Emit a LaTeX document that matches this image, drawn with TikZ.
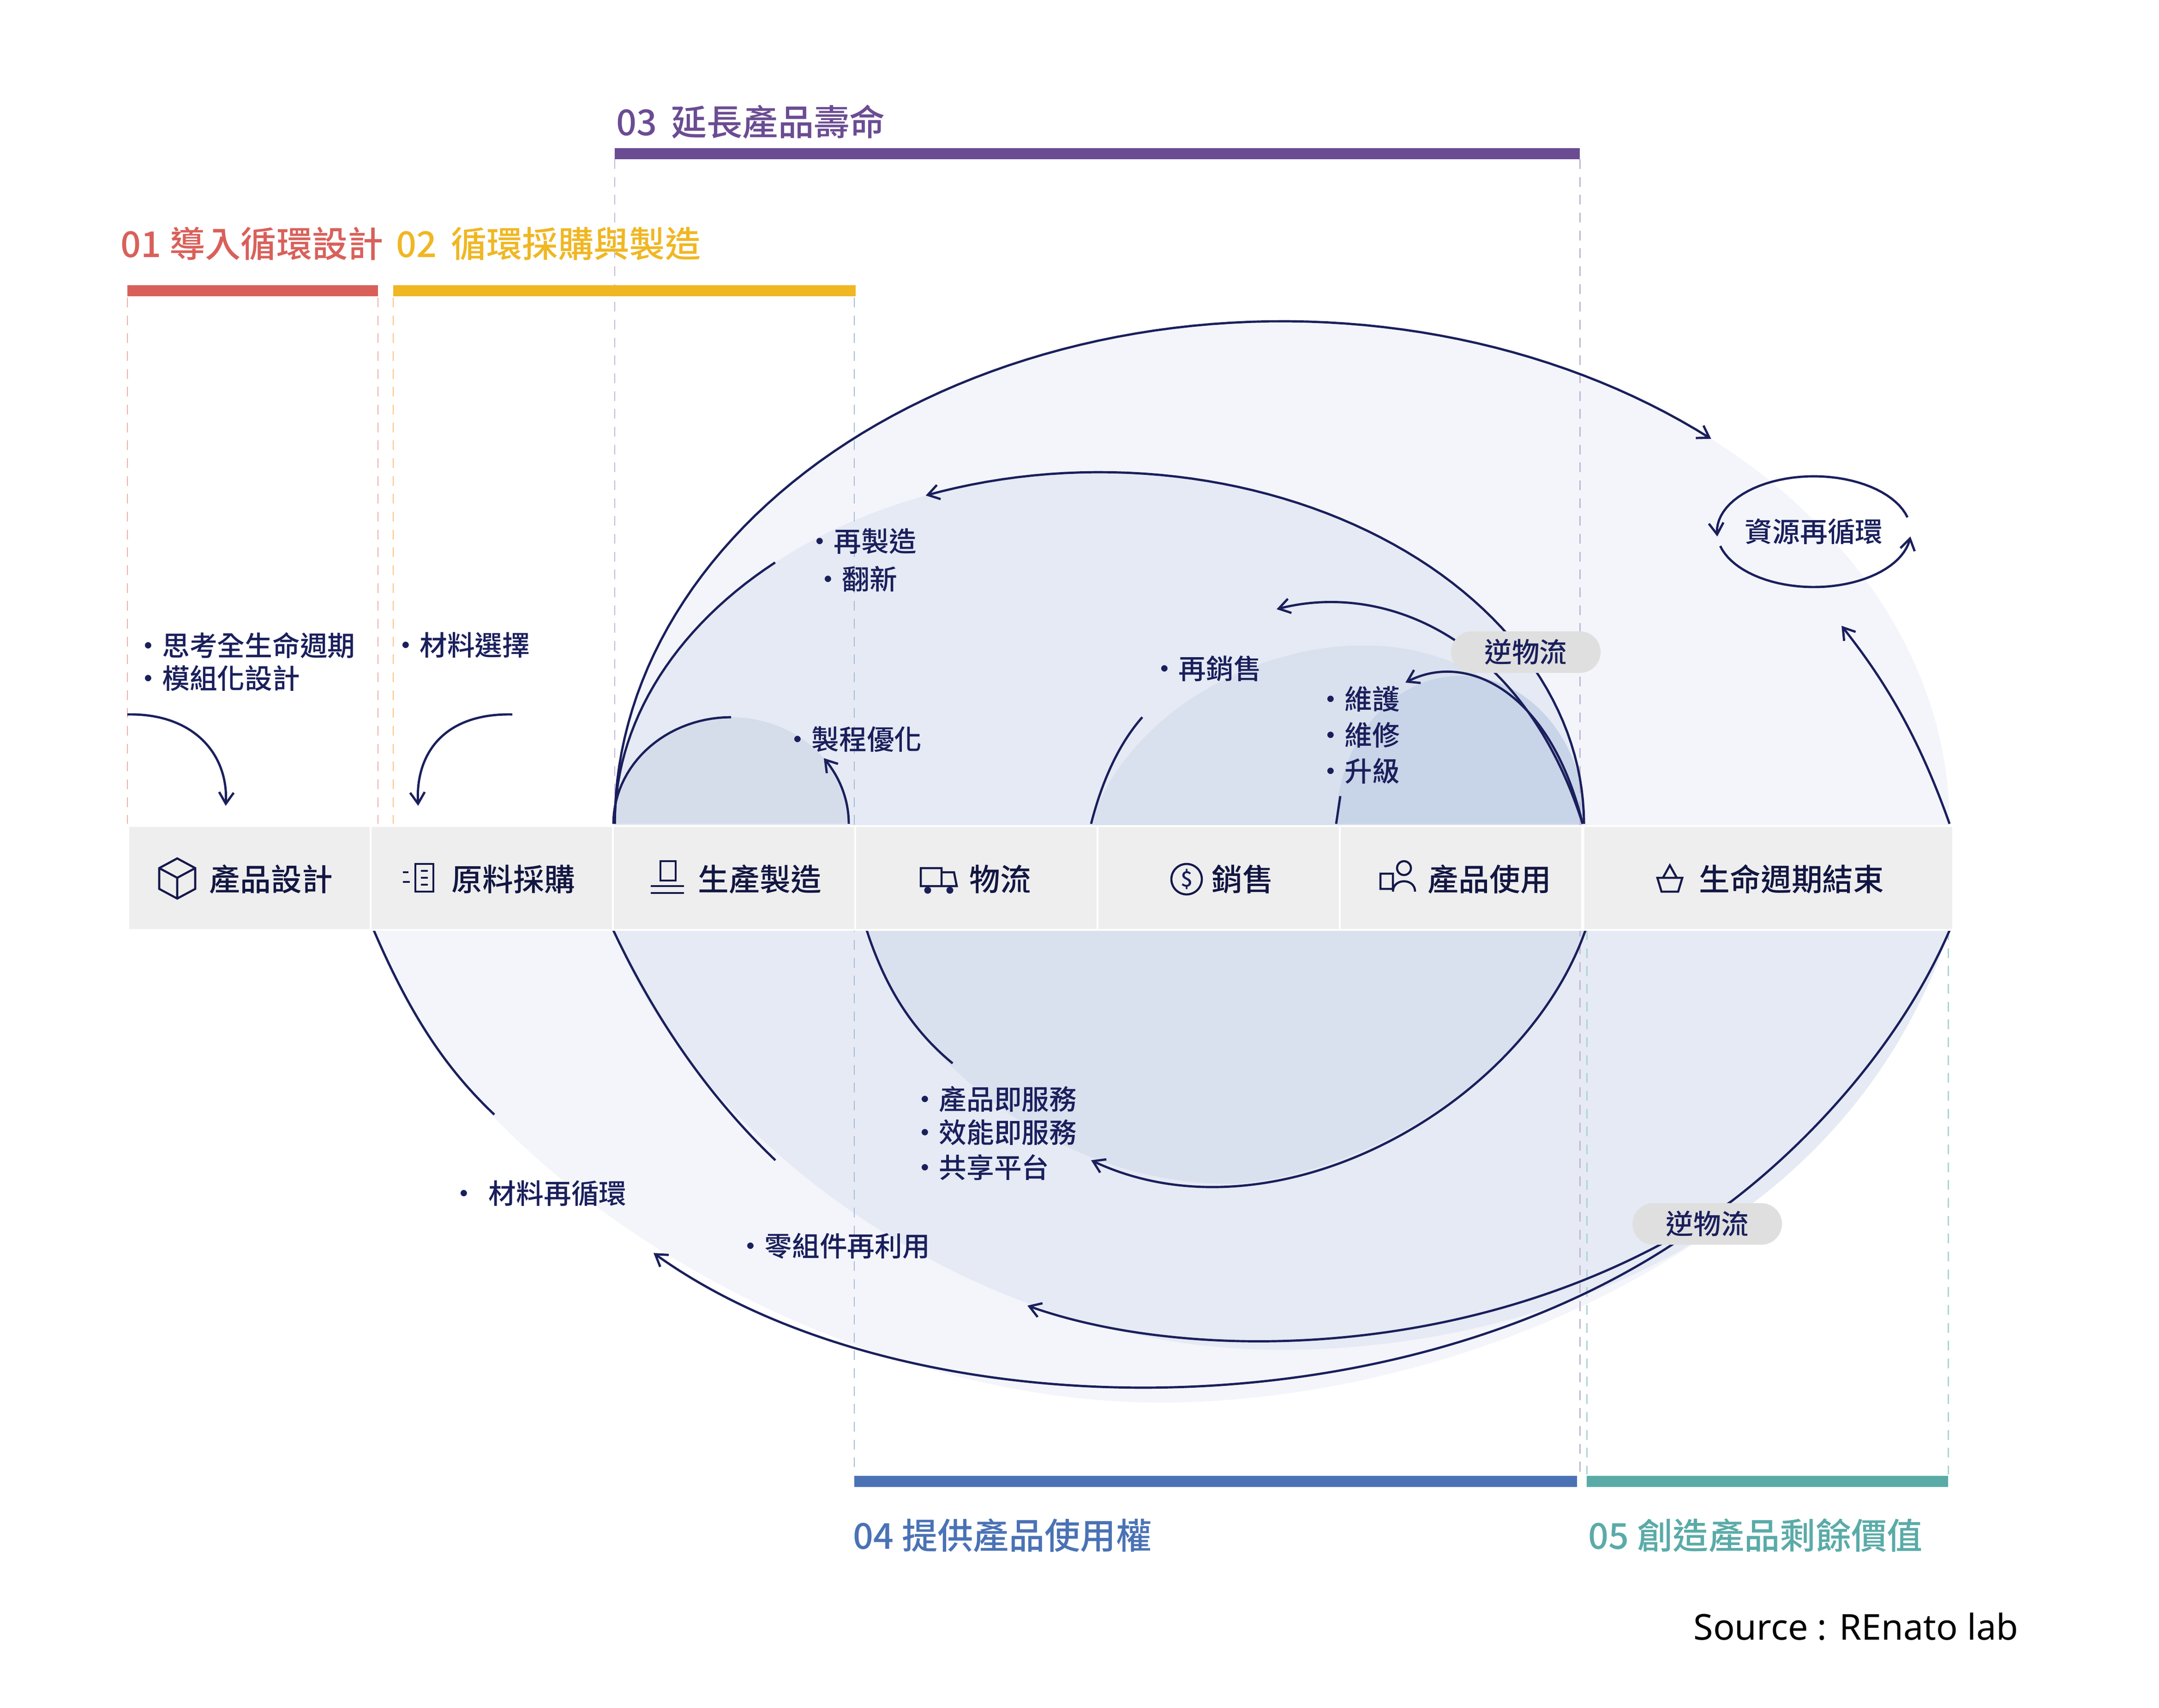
\documentclass[tikz,border=0pt]{standalone}
\usepackage{fontspec}
\setmainfont{Noto Sans CJK TC}[BoldFont={Noto Sans CJK TC Medium}]
\newfontfamily\srcfont{Noto Sans}
\usetikzlibrary{arrows.meta}
\definecolor{navy}{HTML}{1A1F5C}
\definecolor{cA}{HTML}{D9605A}
\definecolor{cB}{HTML}{F0B723}
\definecolor{cC}{HTML}{6B4C93}
\definecolor{cD}{HTML}{4A72B5}
\definecolor{cE}{HTML}{5AABA8}
\definecolor{fa}{HTML}{F3F5FA}
\definecolor{fb}{HTML}{E5EAF4}
\definecolor{fc}{HTML}{DAE1EE}
\definecolor{fd}{HTML}{D5DDEB}
\definecolor{fe}{HTML}{C8D4E7}
\begin{document}
\begin{tikzpicture}[x=0.03cm,y=-0.03cm,
  arr/.style={draw=navy,line width=1.4pt,-{Straight Barb[length=7pt,width=9pt]}},
  ln/.style={draw=navy,line width=1.4pt},
  lab/.style={text=navy,font=\fontsize{17}{20}\selectfont\bfseries,anchor=west,inner sep=0pt},
  box/.style={fill=gray!13,draw=white,line width=1pt,minimum height=75*0.03cm,anchor=north west,inner sep=0pt},
  boxt/.style={text=navy!70!black,font=\fontsize{19}{22}\selectfont\bfseries,anchor=west,inner sep=0pt},
  ttl/.style={font=\fontsize{22}{26}\selectfont\bfseries,anchor=west,inner sep=0pt},
  pill/.style={fill=gray!25,rounded corners=15*0.03cm,minimum width=108*0.03cm,minimum height=30*0.03cm,text=navy,font=\fontsize{17}{20}\selectfont\bfseries,inner sep=0pt},
  dsh/.style={dashed,line width=0.8pt,dash pattern=on 6pt off 5pt}]
\useasboundingbox[fill=white] (0,0) rectangle (1559.3,1233.3);
% fills
\fill[fa] plot[domain=180:0,samples=80] ({926+482*cos(\x)},{595-363*sin(\x)}) -- (1408,672) .. controls (1330,900) and (1050,1013) .. (838,1013) .. controls (600,1013) and (330,850) .. (270,672) -- cycle;
\fill[fb] plot[domain=180:0,samples=80] ({794+350*cos(\x)},{595-254*sin(\x)}) -- (1408,672) .. controls (1330,900) and (1100,975) .. (925,975) .. controls (700,975) and (500,820) .. (443,672) -- cycle;
\fill[fd] plot[domain=180:0,samples=40] ({528+85*cos(\x)},{595-77*sin(\x)}) -- cycle;
\fill[fc] (788,595) .. controls (830,460) and (1090,390) .. (1143,595) -- (1145,672) .. controls (1100,800) and (950,855) .. (887,855) .. controls (760,855) and (650,760) .. (626,672) -- cycle;
\fill[fe] plot[domain=180:0,samples=40] ({1055+90*cos(\x)},{595-107*sin(\x)}) -- cycle;
% dashed guides
\draw[dsh,cA!50] (92,215) -- (92,595) (273,215) -- (273,595);
\draw[dsh,orange!50] (284,215) -- (284,595);
\draw[dsh,cC!40] (444,115) -- (444,595) (1141,115) -- (1141,1065);
\draw[dsh,cD!50] (617,215) -- (617,1065);
\draw[dsh,cE!50] (1146,672) -- (1146,1065) (1407,672) -- (1407,1065);
% bars & titles
\fill[cA] (92,206) rectangle (273,214);
\fill[cB] (284,206) rectangle (618,214);
\fill[cC] (444,107) rectangle (1141,115);
\fill[cD] (617,1066) rectangle (1139,1074);
\fill[cE] (1146,1066) rectangle (1407,1074);
\node[ttl,text=cA] (t1) at (87,176) {01 導入循環設計};
\node[ttl,text=cB] (t2) at (286,176) {02\,  循環採購與製造};
\node[ttl,text=cC] (t3) at (445,88) {03\,  延長產品壽命};
\node[ttl,text=cD] (t4) at (616,1109) {04 提供產品使用權};
\node[ttl,text=cE] (t5) at (1147,1109) {05 創造產品剩餘價值};
% arcs
\draw[arr] plot[domain=180:50,samples=80] ({926+482*cos(\x)},{595-363*sin(\x)});
\draw[arr] plot[domain=0:111,samples=60] ({794+350*cos(\x)},{595-254*sin(\x)});
\draw[ln] plot[domain=180:132,samples=30] ({794+350*cos(\x)},{595-254*sin(\x)});
\draw[ln] plot[domain=180:90,samples=30] ({528+85*cos(\x)},{595-77*sin(\x)});
\draw[arr] plot[domain=0:38,samples=20] ({528+85*cos(\x)},{595-77*sin(\x)});
\draw[ln] (788,595) .. controls (797,560) and (810,535) .. (825,518);
\draw[arr] (1143,595) .. controls (1100,460) and (1000,420) .. (922,440);
\draw[ln] (626,672) .. controls (640,715) and (660,745) .. (688,768);
\draw[arr] (1145,672) .. controls (1100,800) and (920,900) .. (788,838);
\draw[ln] (965,595) -- (968,575);
\draw[arr] (1143,595) .. controls (1120,500) and (1060,470) .. (1015,493);
\draw[arr] (1408,595) .. controls (1385,530) and (1360,490) .. (1330,452);
\draw[ln] (1408,672) .. controls (1370,760) and (1300,830) .. (1250,868);
\draw[arr] (1250,868) .. controls (1080,985) and (860,985) .. (742,943);
\draw[arr] (1250,868) .. controls (1040,1040) and (660,1040) .. (472,905);
\draw[ln] (270,672) .. controls (295,730) and (320,770) .. (357,805);
\draw[ln] (443,672) .. controls (475,740) and (515,795) .. (560,838);
\draw[arr] plot[domain=15:185,samples=40] ({1310+70*cos(\x)},{384-40*sin(\x)});
\draw[arr] plot[domain=195:355,samples=40] ({1310+70*cos(\x)},{384-40*sin(\x)});
\draw[arr] (92,516) .. controls (140,515) and (165,545) .. (163,582);
\draw[arr] (370,516) .. controls (320,515) and (300,545) .. (302,582);
% pills
\node[pill] (p1) at (1102,471) {逆物流};
\node[pill] (p2) at (1233,884) {逆物流};
\node[text=navy,font=\fontsize{17}{20}\selectfont\bfseries] (rc) at (1310,384) {資源再循環};
% boxes
\node[box,minimum width=175*0.03cm] (b1) at (92,596) {};
\node[box,minimum width=175*0.03cm] (b2) at (267,596) {};
\node[box,minimum width=175*0.03cm] (b3) at (442,596) {};
\node[box,minimum width=175*0.03cm] (b4) at (617,596) {};
\node[box,minimum width=175*0.03cm] (b5) at (792,596) {};
\node[box,minimum width=175*0.03cm] (b6) at (967,596) {};
\node[box,minimum width=267*0.03cm] (b7) at (1143,596) {};
\node[boxt] at (151,635) {產品設計};
\node[boxt] at (326,635) {原料採購};
\node[boxt] at (504,635) {生產製造};
\node[boxt] at (700,635) {物流};
\node[boxt] at (875,635) {銷售};
\node[boxt] at (1031,635) {產品使用};
\node[boxt] at (1227,635) {生命週期結束};
% icons
\begin{scope}[draw=navy!80!black,line width=1.3pt]
\draw (128,620) -- (141,627) -- (141,642) -- (128,649) -- (115,642) -- (115,627) -- cycle (115,627) -- (128,634) -- (141,627) (128,634) -- (128,649);
\draw (300,624) rectangle (313,644) (304,629) -- (309,629) (304,634) -- (309,634) (304,639) -- (309,639) (291,630) -- (295,630) (291,637) -- (296,637);
\draw (477,622) rectangle (488,636) (470,640) -- (494,640) (470,645) -- (494,645);
\draw (665,627) rectangle (680,640) (680,630) -- (689,630) -- (691,640) -- (680,640);
\fill[navy] (670,643) circle (2.5) (686,643) circle (2.5);
\draw (857,635) circle (11);
\node[text=navy,font=\fontsize{13}{13}\selectfont\bfseries] at (857,635) {\$};
\draw (997,631) rectangle (1006,642) (1014,627) circle (5) (1006,644) .. controls (1006,634) and (1022,634) .. (1022,644);
\draw (1197,634) -- (1215,634) -- (1212,644) -- (1200,644) -- cycle (1201,634) -- (1206,625) -- (1211,634);
\end{scope}
% labels
\node[lab] at (97,466) {・思考全生命週期};
\node[lab] at (97,490) {・模組化設計};
\node[lab] at (283,466) {・材料選擇};
\node[lab] at (582,391) {・再製造};
\node[lab] at (588,418) {・翻新};
\node[lab] at (566,534) {・製程優化};
\node[lab] at (831,483) {・再銷售};
\node[lab] at (951,505) {・維護};
\node[lab] at (951,531) {・維修};
\node[lab] at (951,557) {・升級};
\node[lab] at (658,794) {・產品即服務};
\node[lab] at (658,818) {・效能即服務};
\node[lab] at (658,843) {・共享平台};
\node[lab] at (325,862) {・\, 材料再循環};
\node[lab] at (532,900) {・零組件再利用};
\node[anchor=east,inner sep=0pt,font=\srcfont\fontsize{22}{25}\selectfont] (src) at (1458,1175) {Source : REnato lab};
\end{tikzpicture}
\end{document}
